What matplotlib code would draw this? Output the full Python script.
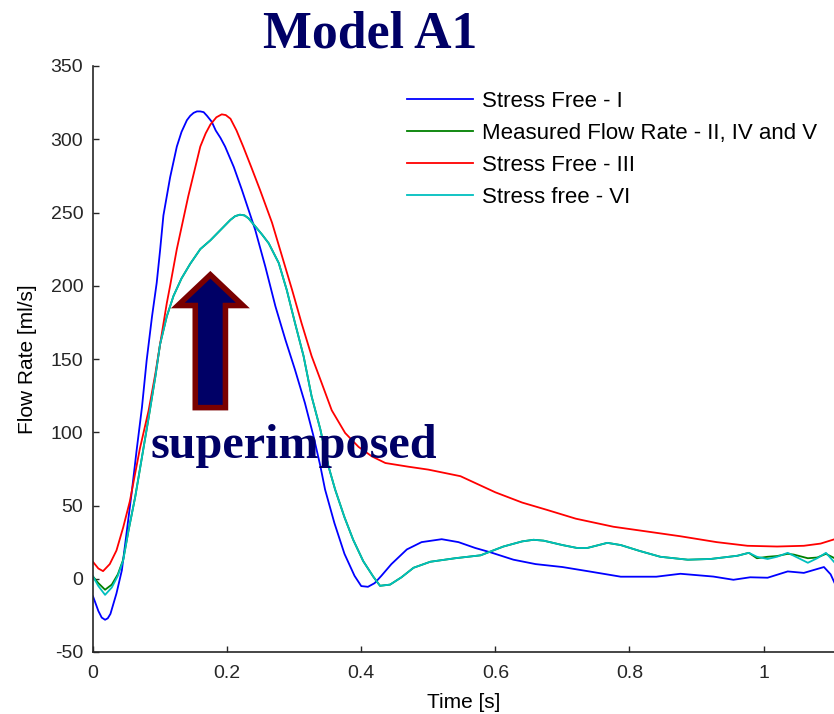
"""
Model A1 - flow rate waveforms, stress free vs measured
"""
import matplotlib
matplotlib.use('Agg')
import matplotlib.pyplot as plt
from matplotlib.patches import FancyArrow

# --- data ---
t_blue = [0.000, 0.008, 0.013, 0.018, 0.022, 0.026, 0.035, 0.043, 0.050, 0.058,
          0.065, 0.073, 0.080, 0.088, 0.095, 0.100, 0.105, 0.115, 0.125, 0.132,
          0.140, 0.145, 0.150, 0.155, 0.160, 0.165, 0.170, 0.177, 0.183, 0.190,
          0.197, 0.210, 0.222, 0.242, 0.257, 0.272, 0.287, 0.301, 0.316, 0.329,
          0.339, 0.346, 0.360, 0.375, 0.390, 0.400, 0.410, 0.420, 0.430, 0.445,
          0.468, 0.490, 0.520, 0.545, 0.570, 0.593, 0.627, 0.660, 0.700, 0.740,
          0.787, 0.840, 0.876, 0.925, 0.955, 0.980, 1.006, 1.036, 1.060, 1.090,
          1.100, 1.106]
q_blue = [-12, -22, -26.5, -28, -27, -24, -10, 5.7, 31, 60,
          87.5, 117, 149, 179, 202, 224, 248, 274, 295, 305,
          313, 316, 318, 319, 319, 318.5, 316, 312, 306, 301,
          295, 281, 265.5, 238, 213, 186, 163, 143, 120, 97,
          77, 61, 38, 17, 2, -5, -5.5, -3, 2, 10,
          20, 25, 27, 25, 21, 18, 13, 10, 8, 5,
          1.4, 1.4, 3.4, 1.5, -0.7, 1, 0.7, 5, 4, 8,
          3, -3]

t_red = [0.000, 0.008, 0.015, 0.025, 0.035, 0.045, 0.055, 0.070, 0.083, 0.093,
         0.100, 0.110, 0.115, 0.125, 0.142, 0.160, 0.168, 0.175, 0.184, 0.192,
         0.198, 0.205, 0.214, 0.224, 0.236, 0.249, 0.267, 0.282, 0.297, 0.311,
         0.326, 0.341, 0.356, 0.376, 0.396, 0.416, 0.436, 0.470, 0.500, 0.548,
         0.600, 0.640, 0.677, 0.720, 0.776, 0.830, 0.876, 0.930, 0.976, 1.020,
         1.060, 1.085, 1.106]
q_red = [11.5, 7, 5.2, 10, 19.3, 35, 53, 89, 115, 140,
         160, 188, 200, 225, 261, 295, 304, 310, 315, 317,
         316.5, 314, 306, 295, 281, 265.5, 243, 220, 197, 174.5,
         152, 133.6, 115, 99.5, 90, 83.5, 79, 76.5, 74.5, 70,
         59, 52, 47, 41, 35.5, 32, 29, 25, 22.5, 22,
         22.5, 24, 27]

t_cyan = [0.000, 0.008, 0.018, 0.028, 0.037, 0.045, 0.053, 0.063, 0.073, 0.083,
          0.093, 0.100, 0.110, 0.120, 0.132, 0.145, 0.160, 0.175, 0.190, 0.205,
          0.212, 0.219, 0.226, 0.232, 0.242, 0.252, 0.262, 0.277, 0.289, 0.301,
          0.314, 0.326, 0.339, 0.351, 0.361, 0.375, 0.388, 0.403, 0.418, 0.428,
          0.443, 0.460, 0.478, 0.503, 0.540, 0.578, 0.612, 0.640, 0.657, 0.672,
          0.700, 0.722, 0.737, 0.767, 0.787, 0.815, 0.846, 0.887, 0.921, 0.961,
          0.978, 0.990, 1.006, 1.020, 1.036, 1.045, 1.066, 1.080, 1.093, 1.106]
q_cyan = [1.5, -5, -11, -6, 2, 12.5, 33, 56, 83, 110,
          138, 160, 179, 193, 205, 215, 225, 231, 238, 245,
          247.5, 248.5, 248, 246, 240.5, 235, 229, 215.5, 197, 175,
          152, 124.5, 102, 77, 61, 42, 26.6, 12, 1.4, -4.8,
          -4, 1, 7.5, 11.6, 14, 16, 22, 25.5, 26.6, 26,
          23, 21, 21, 24.5, 23, 19, 15, 13, 13.5, 15.7,
          17.7, 15, 13.5, 15, 17.7, 15.7, 10.9, 14, 17.7, 11]

# measured flow rate is almost identical to "Stress free - VI"
t_green = t_cyan
q_green = [1.5, -3, -7.5, -4, 3, 13, 33, 56, 83, 110,
           138, 160, 179, 193, 205, 215, 225, 231, 238, 245,
           247.5, 248.5, 248, 246, 240.5, 235, 229, 215.5, 197, 175,
           152, 124.5, 102, 77, 61, 42, 26.6, 12, 1.4, -4.8,
           -4, 1, 7.5, 11.6, 14, 16, 22, 25.5, 26.6, 26,
           23, 21, 21, 24.5, 23, 19, 15, 13, 13.5, 15.7,
           17.7, 14, 15, 15.5, 17, 16.5, 14, 14.5, 17, 14]

x_ticks = [0, 0.2, 0.4, 0.6, 0.8, 1]
x_tick_labels = ['0', '0.2', '0.4', '0.6', '0.8', '1']
y_ticks = [-50, 0, 50, 100, 150, 200, 250, 300, 350]
y_tick_labels = ['-50', '0', '50', '100', '150', '200', '250', '300', '350']

labels = ['Stress Free - I', 'Measured Flow Rate - II, IV and V',
          'Stress Free - III', 'Stress free - VI']

navy = '#000066'
maroon = '#7a0000'

W, H = 834, 714
fig = plt.figure(figsize=(W / 100, H / 100), dpi=100)
ax = fig.add_axes([93 / W, 62 / H, (W - 93) / W, 586 / H])

lw = 1.3
ax.plot(t_blue, q_blue, color='#0000ff', lw=lw, label=labels[0])
ax.plot(t_green, q_green, color='#008000', lw=lw, label=labels[1])
ax.plot(t_red, q_red, color='#ff0000', lw=lw, label=labels[2])
ax.plot(t_cyan, q_cyan, color='#00bfbf', lw=lw, label=labels[3])

ax.set_xlim(0, 1.105)
ax.set_ylim(-50, 350)
ax.set_xticks(x_ticks)
ax.set_xticklabels(x_tick_labels)
ax.set_yticks(y_ticks)
ax.set_yticklabels(y_tick_labels)

for s in ['top', 'right']:
    ax.spines[s].set_visible(False)
for s in ['left', 'bottom']:
    ax.spines[s].set_color('#262626')
    ax.spines[s].set_linewidth(1.2)

ax.tick_params(direction='in', length=4, width=1, colors='#262626',
               labelsize=14, pad=7)
ax.tick_params(axis='x', pad=9)
for lab in ax.get_xticklabels() + ax.get_yticklabels():
    lab.set_family('Liberation Sans')

ax.set_xlabel('Time [s]', fontsize=15, family='Liberation Sans', labelpad=8)
ax.set_ylabel('Flow Rate [ml/s]', fontsize=15, family='Liberation Sans', labelpad=10)

leg = ax.legend(loc='upper left', bbox_to_anchor=(0.4233, 0.958), frameon=False,
                borderpad=0, borderaxespad=0, handlelength=3.0, handletextpad=0.4,
                labelspacing=0.5, prop={'family': 'Liberation Sans', 'size': 16})

# big arrow pointing at the superimposed curves
arrow = FancyArrow(0.175, 116.8, 0, 90.7, width=0.045, head_width=0.097,
                   head_length=21, length_includes_head=True,
                   facecolor=navy, edgecolor=maroon, linewidth=4,
                   joinstyle='miter', zorder=5)
ax.add_patch(arrow)

fig.text(150 / W, 1 - 458 / H, 'superimposed', family='Liberation Serif',
         fontweight='bold', fontsize=34.7, color=navy, ha='left', va='baseline',
         zorder=6)
fig.text(263 / W, 1 - 47 / H, 'Model A1', family='Liberation Serif',
         fontweight='bold', fontsize=37.3, color=navy, ha='left', va='baseline')

plt.savefig('out.png', dpi=100)
